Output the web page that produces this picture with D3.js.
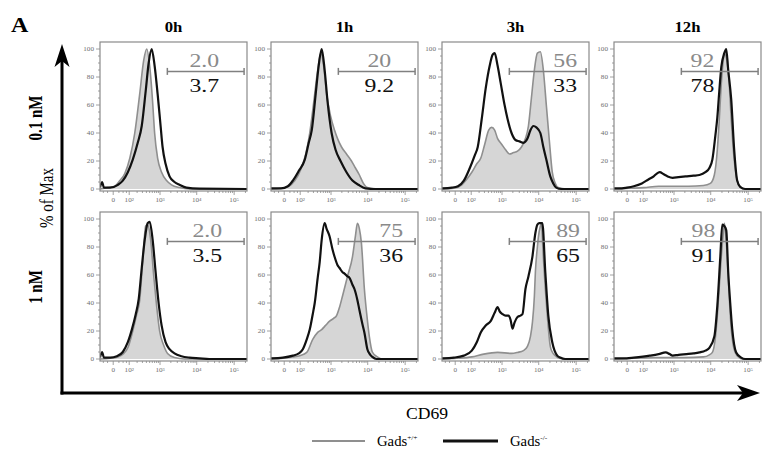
<!DOCTYPE html>
<html>
<head>
<meta charset="utf-8">
<script src="https://cdn.jsdelivr.net/npm/d3@7"></script>
<style>
body { margin: 0; background: #fff; }
svg { display: block; font-family: "Liberation Serif", "DejaVu Serif", serif; }
</style>
</head>
<body>
<script>
// categories / labels
var times = ["0h", "1h", "3h", "12h"];
var doses = ["0.1 nM", "1 nM"];
var wtLabels = [["2.0", "20", "56", "92"], ["2.0", "75", "89", "98"]];
var koLabels = [["3.7", "9.2", "33", "78"], ["3.5", "36", "65", "91"]];
var gateRange = [1600, 184000];
var labelAt = [[16000, 20400, 51000, 6000], [19200, 42400, 61000, 6400]];
var yTicks = [0, 20, 40, 60, 80, 100];
var xTicks = [0, 100, 1000, 10000, 100000];
var xTickLabels = ["0", "10\u00b2", "10\u00b3", "10\u2074", "10\u2075"];

// histograms, [CD69, % of max]; wt = Gads+/+, ko = Gads-/-
var wt01_0h = [[-75,0],[-23,1],[6.5,2],[30,6],[62,11],[106,22],[165,40],[245,68],[330,92],[408,100],[502,88],[614,62],[701,40],[854,22],[1107,12],[1522,6],[2086,3],[3436,1],[6366,0],[220000,0]];
var ko01_0h = [[-75,1],[-59,5],[-46,1],[-13,1],[20,3],[48,6],[87,12],[139,21],[210,33],[285,45],[380,70],[468,90],[574,100],[701,88],[854,68],[1038,45],[1180,30],[1429,18],[1840,9],[2516,5],[3436,3],[5293,1],[11760,0.3],[220000,0]];
var wt01_1h = [[-75,0],[-13,0.5],[20,2],[55,6],[106,14],[165,25],[227,40],[307,62],[408,85],[502,97],[614,88],[749,68],[973,52],[1258,42],[1522,36],[1959,30],[2679,25],[3655,20],[4680,15],[5987,10],[7657,4],[9790,1],[15980,0],[220000,0]];
var ko01_1h = [[-75,0.5],[-13,0.5],[15,2],[42,6],[87,13],[152,21],[210,33],[265,42],[354,68],[437,88],[537,100],[657,85],[800,62],[1038,40],[1340,28],[1840,20],[2679,12],[3889,6],[5630,3],[8659,0.5],[15980,0],[220000,0]];
var wt01_3h = [[-75,0],[-5,0.5],[30,3],[62,7],[106,12],[165,18],[227,22],[307,32],[408,42],[502,44],[614,42],[749,36],[973,32],[1258,28],[1622,25],[2086,26],[2679,27],[3436,30],[4400,36],[5293,45],[6366,65],[7657,85],[9207,97],[11070,98],[13300,85],[15980,60],[19200,35],[23060,12],[27700,4],[33240,1],[54190,0],[220000,0]];
var ko01_3h = [[-75,0.5],[-13,1],[11,2],[42,6],[87,15],[139,24],[179,30],[245,50],[330,72],[437,88],[537,96],[614,97],[749,88],[912,76],[1180,60],[1429,50],[1840,40],[2364,35],[3034,34],[3889,33],[4978,36],[5987,42],[7200,45],[8659,44],[11070,40],[13300,30],[15980,21],[20410,9],[24510,4],[29410,1],[39920,0],[220000,0]];
var wt01_12h = [[-75,0],[6.5,0.5],[106,1],[354,2],[973,2],[2516,2],[6366,2.5],[9790,4],[12500,10],[15030,28],[16990,50],[19200,75],[21690,92],[23060,97],[26060,94],[31270,75],[35330,50],[42440,21],[50980,6],[61230,1.5],[83100,0],[220000,0]];
var ko01_12h = [[-75,0.5],[-23,0.5],[-1,1],[30,2],[87,4],[165,7],[245,9],[307,11],[380,12],[502,10.5],[657,9],[912,8],[1340,8.5],[2086,9],[3436,9.5],[4978,10],[7200,12],[9207,15],[11070,21],[13300,38],[15030,51],[16990,70],[19200,87],[23060,97],[26060,100],[29410,85],[35330,64],[42440,28],[50980,6],[61230,1.5],[83100,0],[220000,0]];

var wt1_0h = [[-75,0],[-13,0.5],[20,1.5],[55,4],[87,8],[139,20],[194,32],[245,42],[307,70],[380,95],[437,96],[537,85],[657,60],[800,38],[973,20],[1258,10],[1622,4],[2516,1],[4680,0],[220000,0]];
var ko1_0h = [[-75,1],[-59,5],[-46,1],[-13,1],[15,2],[48,5],[87,12],[128,21],[179,32],[227,43],[285,65],[354,85],[437,97],[502,98],[614,85],[749,62],[912,40],[1107,24],[1429,12],[1840,7],[2516,4],[3889,2],[6366,1],[11760,0.5],[21690,0],[220000,0]];
var wt1_1h = [[-75,0],[-5,0.5],[42,1.5],[96,2.4],[179,4.7],[285,14],[408,19],[537,21],[701,24],[912,27],[1180,29],[1429,31],[1727,37],[2086,45],[2851,59],[3889,73],[4680,88],[5293,97],[5987,93],[6770,83],[8142,50],[9790,28],[11070,16],[13300,5],[18060,1.5],[24510,0],[220000,0]];
var ko1_1h = [[-75,0.5],[-5,1],[42,2.4],[87,4],[128,7],[179,14],[227,21],[285,32],[330,40],[408,58],[468,69],[537,85],[657,97],[749,93],[912,87.5],[1107,78],[1258,73],[1522,67],[1727,65],[2086,62],[2364,61],[2851,59],[3229,58],[3889,53],[4400,50],[5293,42],[5987,35],[7200,25],[8142,19],[9790,7],[11760,3],[13300,1.5],[16990,0],[220000,0]];
var wt1_3h = [[-75,0],[6.5,0.5],[106,1.5],[285,3.5],[749,4.7],[1840,4],[2679,4.7],[3889,6],[4978,9],[5987,16],[6770,26],[7657,45],[8142,62],[9207,80],[9790,87],[11070,95],[11760,97],[13300,73],[15030,50],[16990,31],[20410,9],[23060,5],[27700,2.4],[35330,0.5],[54190,0],[220000,0]];
var ko1_3h = [[-75,0.5],[-5,1],[42,2.4],[106,6],[165,12],[227,19],[330,24],[468,27],[614,33],[749,37],[854,34],[1038,32],[1258,31],[1522,31],[1727,28],[1959,21.6],[2221,26],[2679,30],[3229,31],[3655,32],[4400,50],[5293,59],[6770,73],[8142,90],[9207,96],[10410,97],[12500,97],[15030,62],[18060,31],[23060,12],[31270,2.4],[37560,1],[50980,0],[220000,0]];
var wt1_12h = [[-75,0],[30,0.5],[245,1],[1840,1],[6366,1.5],[9207,3],[11070,4.7],[13300,15],[15030,31],[16990,52],[19200,73],[21690,90],[23060,97],[24510,92],[27700,73],[31270,45],[35330,21.6],[39920,10],[45110,4.7],[57600,1],[73530,0],[220000,0]];
var ko1_12h = [[-75,0.5],[-2,0.5],[30,1],[179,2.4],[354,3.5],[574,4.7],[749,3.5],[912,2.4],[1340,3],[2221,3.5],[3436,4],[4978,4.7],[7200,6],[9207,8],[12500,16],[15030,38],[18060,73],[20410,96],[23060,95],[26060,92],[29410,62],[33240,40],[37560,21.6],[47960,4.7],[65090,1],[83100,0],[220000,0]];

var wtCurves = [[wt01_0h, wt01_1h, wt01_3h, wt01_12h], [wt1_0h, wt1_1h, wt1_3h, wt1_12h]];
var koCurves = [[ko01_0h, ko01_1h, ko01_3h, ko01_12h], [ko1_0h, ko1_1h, ko1_3h, ko1_12h]];

var width = 762, height = 453;
var colLeft = [100, 271, 442, 614];
var rowTop = [49, 219];
var pw = 147, ph = 140;

var svg = d3.select("body").append("svg")
    .attr("width", width)
    .attr("height", height);

var x = d3.scaleSymlog().constant(60).domain([-75, 220000]).range([0, pw]);
var y = d3.scaleLinear().domain([0, 100]).range([ph, 0]);

var area = d3.area()
    .x(function(d){ return x(d[0]); })
    .y0(ph)
    .y1(function(d){ return y(d[1]); })
    .curve(d3.curveMonotoneX);
var line = d3.line()
    .x(function(d){ return x(d[0]); })
    .y(function(d){ return y(d[1]); })
    .curve(d3.curveMonotoneX);

function stretch(sel, tx, ty, sx) {
    sel.attr("transform", "translate(" + tx + "," + ty + ") scale(" + sx + ",1)");
}

svg.append("defs").append("clipPath").attr("id", "clip")
    .append("rect").attr("x", 0).attr("y", -7).attr("width", pw).attr("height", ph + 9);

// minor x ticks: log steps plus a few in the linear part
var minorX = [-50, -25, 25, 50, 75];
[100, 1000, 10000, 100000].forEach(function(dec){
    for (var k = 2; k < 10; k++) if (dec * k < 220000) minorX.push(dec * k);
});

for (var r = 0; r < 2; r++) {
    for (var c = 0; c < 4; c++) {
        var g = svg.append("g")
            .attr("transform", "translate(" + colLeft[c] + "," + rowTop[r] + ")");

        // ticks
        g.selectAll(".ymin").data(d3.range(0, 101, 5)).enter().append("line")
            .attr("x1", function(d){ return d % 20 == 0 ? -4 : -2; }).attr("x2", 0)
            .attr("y1", y).attr("y2", y)
            .attr("stroke", "#8a8a8a").attr("stroke-width", 0.8);
        g.selectAll(".ylab").data(yTicks).enter().append("text")
            .text(function(d){ return d; })
            .attr("font-size", 5.5).attr("fill", "#6e6e6e")
            .attr("text-anchor", "end")
            .each(function(d){ stretch(d3.select(this), -6, y(d) + 2, 1.3); });

        g.selectAll(".xmin").data(minorX).enter().append("line")
            .attr("x1", x).attr("x2", x)
            .attr("y1", ph + 2).attr("y2", ph + 4)
            .attr("stroke", "#8a8a8a").attr("stroke-width", 0.8);
        g.selectAll(".xmaj").data(xTicks).enter().append("line")
            .attr("x1", x).attr("x2", x)
            .attr("y1", ph + 2).attr("y2", ph + 6)
            .attr("stroke", "#8a8a8a").attr("stroke-width", 0.8);
        g.selectAll(".xlab").data(xTicks).enter().append("text")
            .text(function(d, i){ return xTickLabels[i]; })
            .attr("font-size", 5.5).attr("fill", "#6e6e6e")
            .attr("text-anchor", "middle")
            .each(function(d){ stretch(d3.select(this), x(d), ph + 13, 1.3); });

        // histograms
        var plot = g.append("g").attr("clip-path", "url(#clip)");
        plot.append("path").datum(wtCurves[r][c])
            .attr("d", area)
            .attr("fill", "#d6d6d6");
        plot.append("path").datum(wtCurves[r][c])
            .attr("d", line)
            .attr("fill", "none").attr("stroke", "#8f8f8f").attr("stroke-width", 1.6);
        plot.append("path").datum(koCurves[r][c])
            .attr("d", line)
            .attr("fill", "none").attr("stroke", "#111").attr("stroke-width", 2.2);

        // frame
        g.append("rect")
            .attr("x", 0).attr("y", -7)
            .attr("width", pw).attr("height", ph + 9)
            .attr("fill", "none").attr("stroke", "#8a8a8a").attr("stroke-width", 1.2);

        // gate
        var gy = y(84);
        g.append("line")
            .attr("x1", x(gateRange[0])).attr("x2", x(gateRange[1]))
            .attr("y1", gy).attr("y2", gy)
            .attr("stroke", "#808080").attr("stroke-width", 1.5);
        gateRange.forEach(function(v){
            g.append("line")
                .attr("x1", x(v)).attr("x2", x(v))
                .attr("y1", gy - 3.5).attr("y2", gy + 3.5)
                .attr("stroke", "#808080").attr("stroke-width", 1.5);
        });
        var tx = x(labelAt[r][c]);
        stretch(g.append("text").text(wtLabels[r][c])
            .attr("font-size", 19).attr("fill", "#8a8a8a").attr("text-anchor", "middle"), tx, gy - 4, 1.25);
        stretch(g.append("text").text(koLabels[r][c])
            .attr("font-size", 19).attr("fill", "#111").attr("text-anchor", "middle"), tx, gy + 21, 1.25);
    }
}

// column titles
times.forEach(function(t, i){
    stretch(svg.append("text").text(t)
        .attr("font-size", 14.5).attr("font-weight", "bold").attr("text-anchor", "middle"),
        colLeft[i] + pw / 2, 32, 1.15);
});

// row labels
doses.forEach(function(t, i){
    svg.append("text").text(t)
        .attr("font-size", 15).attr("font-weight", "bold").attr("text-anchor", "middle")
        .attr("transform", "translate(42," + (i == 0 ? 118 : 287) + ") rotate(-90) scale(1,1.25)");
});
svg.append("text").text("% of Max")
    .attr("font-size", 15).attr("text-anchor", "middle")
    .attr("transform", "translate(53,198) rotate(-90) scale(1,1.2)");

stretch(svg.append("text").text("A")
    .attr("font-size", 20).attr("font-weight", "bold"), 11, 32, 1.2);

// big axis arrows
var ax = 62, ay = 393;
svg.append("line").attr("x1", ax).attr("x2", ax).attr("y1", ay + 1.5).attr("y2", 60)
    .attr("stroke", "#000").attr("stroke-width", 3);
svg.append("line").attr("x1", ax - 1.5).attr("x2", 746).attr("y1", ay).attr("y2", ay)
    .attr("stroke", "#000").attr("stroke-width", 3);
svg.append("path").attr("d", "M" + ax + ",44 L" + (ax + 7.5) + ",67 L" + ax + ",61 L" + (ax - 7.5) + ",67 Z");
svg.append("path").attr("d", "M760," + ay + " L737," + (ay - 8) + " L743," + ay + " L737," + (ay + 8) + " Z");

stretch(svg.append("text").text("CD69")
    .attr("font-size", 16).attr("text-anchor", "middle"), 427, 419, 1.1);

// legend
svg.append("line").attr("x1", 312).attr("x2", 365).attr("y1", 441).attr("y2", 441)
    .attr("stroke", "#8f8f8f").attr("stroke-width", 2.2);
svg.append("line").attr("x1", 443).attr("x2", 498).attr("y1", 441).attr("y2", 441)
    .attr("stroke", "#111").attr("stroke-width", 3);
var l1 = svg.append("text").attr("font-size", 14);
l1.append("tspan").text("Gads");
l1.append("tspan").text("+/+").attr("font-size", 7).attr("dy", -6);
stretch(l1, 377, 446, 1.05);
var l2 = svg.append("text").attr("font-size", 14);
l2.append("tspan").text("Gads");
l2.append("tspan").text("-/-").attr("font-size", 7).attr("dy", -6);
stretch(l2, 510, 446, 1.05);
</script>
</body>
</html>
